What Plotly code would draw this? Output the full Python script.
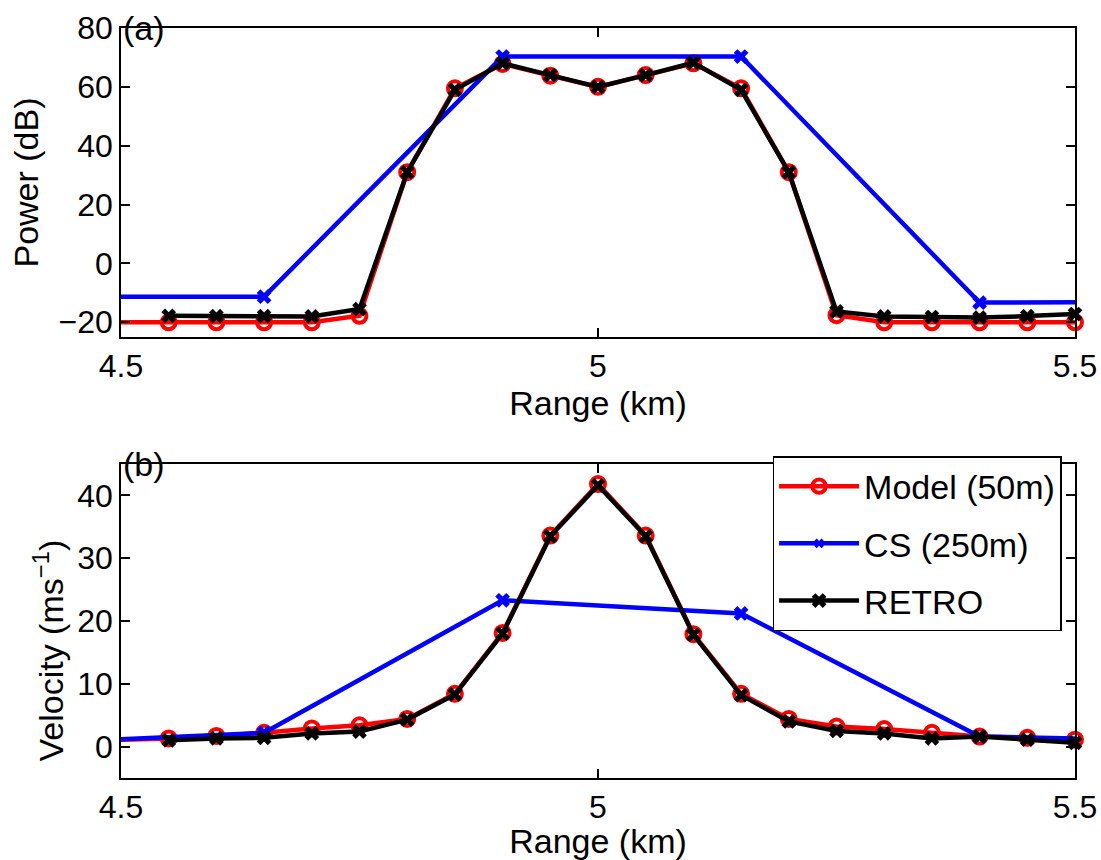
import plotly.graph_objects as go

# ---------------- data ----------------
model_x = [4.45, 4.55, 4.60, 4.65, 4.70, 4.75, 4.80, 4.85, 4.90, 4.95, 5.00,
           5.05, 5.10, 5.15, 5.20, 5.25, 5.30, 5.35, 5.40, 5.45, 5.50]
model_power = [-20, -20, -20, -20, -20, -17.8, 31, 59.5, 67.8, 63.8, 60,
               64, 68, 59.5, 31, -17.6, -20, -20, -20, -20, -20]
model_vel = [0.9, 1.3, 1.7, 2.2, 2.9, 3.4, 4.4, 8.4, 18.1, 33.6, 41.8,
             33.6, 17.9, 8.4, 4.4, 3.2, 2.8, 2.2, 1.6, 1.4, 1.1]

cs_x = [4.40, 4.65, 4.90, 5.15, 5.40, 5.65]
cs_power = [-11.3, -11.3, 70.3, 70.3, -13.3, -13.0]
cs_vel = [0.5, 2.2, 23.3, 21.2, 1.6, 0.8]

retro_x = [4.55, 4.60, 4.65, 4.70, 4.75, 4.80, 4.85, 4.90, 4.95, 5.00,
           5.05, 5.10, 5.15, 5.20, 5.25, 5.30, 5.35, 5.40, 5.45, 5.50]
retro_power = [-17.8, -17.9, -17.9, -18.0, -15.5, 31, 59, 68, 64, 60,
               64, 68.2, 59, 31, -16.3, -18.0, -18.2, -18.4, -17.9, -17.2]
retro_vel = [1.0, 1.3, 1.4, 2.1, 2.4, 4.3, 8.3, 18.0, 33.5, 41.6,
             33.5, 17.8, 8.2, 4.0, 2.5, 2.1, 1.3, 1.6, 1.1, 0.6]

x_ticks = [4.5, 5, 5.5]
x_ticktext = ["4.5", "5", "5.5"]
power_ticks = [-20, 0, 20, 40, 60, 80]
vel_ticks = [0, 10, 20, 30, 40]

XMIN, XMAX = 4.5, 5.5
FONT = "Liberation Sans, Arial, sans-serif"
FS = 32      # tick labels
FT = 34      # titles / legend
LW = 4.5


def vis_sizes(xs, size):
    return [size if XMIN - 1e-9 <= x <= XMAX + 1e-9 else 0 for x in xs]


fig = go.Figure()

for panel, (xa, ya) in enumerate([("x", "y"), ("x2", "y2")]):
    show = panel == 1
    mp = model_power if panel == 0 else model_vel
    cp = cs_power if panel == 0 else cs_vel
    rp = retro_power if panel == 0 else retro_vel
    fig.add_trace(go.Scatter(
        x=model_x, y=mp, xaxis=xa, yaxis=ya, name="Model (50m)",
        mode="lines+markers", showlegend=show, legendgroup="m",
        cliponaxis=False,
        line=dict(color="#ff0000", width=LW),
        marker=dict(symbol="circle-open", size=vis_sizes(model_x, 14),
                    opacity=1, color="#ff0000",
                    line=dict(width=4, color="#ff0000"))))
    fig.add_trace(go.Scatter(
        x=cs_x, y=cp, xaxis=xa, yaxis=ya, name="CS (250m)",
        mode="lines+markers", showlegend=show, legendgroup="c",
        cliponaxis=False,
        line=dict(color="#0000ff", width=LW),
        marker=dict(symbol="x", size=vis_sizes(cs_x, 13), opacity=1,
                    color="#0000ff", line=dict(width=0))))
    fig.add_trace(go.Scatter(
        x=retro_x, y=rp, xaxis=xa, yaxis=ya, name="RETRO",
        mode="lines+markers", showlegend=show, legendgroup="r",
        cliponaxis=False,
        line=dict(color="#000000", width=LW),
        marker=dict(symbol="x", size=vis_sizes(retro_x, 13), opacity=1,
                    color="#000000", line=dict(width=0))))

axis_common = dict(
    showline=True, linecolor="black", linewidth=1.5, mirror="ticks",
    ticks="inside", ticklen=9, tickwidth=1.5, tickcolor="black",
    showgrid=False, zeroline=False, automargin=False,
    tickfont=dict(family=FONT, size=FS, color="black"),
)

fig.update_layout(
    width=1101, height=860,
    margin=dict(l=121, r=26, t=28, b=82, autoexpand=False),
    paper_bgcolor="white", plot_bgcolor="white",
    font=dict(family=FONT, size=FS, color="black"),
    xaxis=dict(domain=[0, 1], range=[XMIN, XMAX], anchor="y",
               tickvals=x_ticks, ticktext=x_ticktext,
               title=dict(text="Range (km)", font=dict(size=FT), standoff=0),
               **axis_common),
    yaxis=dict(domain=[0.588, 1], range=[-25, 80], anchor="x",
               tickvals=power_ticks,
               title=dict(text="Power (dB)", font=dict(size=FT), standoff=10),
               **axis_common),
    xaxis2=dict(domain=[0, 1], range=[XMIN, XMAX], anchor="y2",
                tickvals=x_ticks, ticktext=x_ticktext,
                title=dict(text="Range (km)", font=dict(size=FT), standoff=0),
                **axis_common),
    yaxis2=dict(domain=[0, 0.4187], range=[-5, 45], anchor="x2",
                tickvals=vel_ticks, **axis_common),
    showlegend=True,
    legend=dict(x=0.683, y=0.4293, xref="paper", yref="paper",
                xanchor="left", yanchor="top",
                bgcolor="white", bordercolor="black", borderwidth=1.5,
                font=dict(family=FONT, size=FT, color="black"),
                traceorder="grouped", tracegroupgap=10, itemwidth=80),
    annotations=[
        dict(text="(a)", xref="x domain", yref="y domain", x=0, y=1,
             xanchor="left", yanchor="middle", showarrow=False,
             font=dict(family=FONT, size=FT, color="black")),
        dict(text="(b)", xref="x2 domain", yref="y2 domain", x=0, y=1,
             xanchor="left", yanchor="middle", showarrow=False,
             font=dict(family=FONT, size=FT, color="black")),
        dict(text="Velocity (ms<sup>\u22121</sup>)", xref="paper", yref="paper",
             x=-0.0765, y=0.17, xanchor="center", yanchor="middle",
             textangle=-90, showarrow=False,
             font=dict(family=FONT, size=FT, color="black")),
    ],
)

fig.write_html("out.html")
